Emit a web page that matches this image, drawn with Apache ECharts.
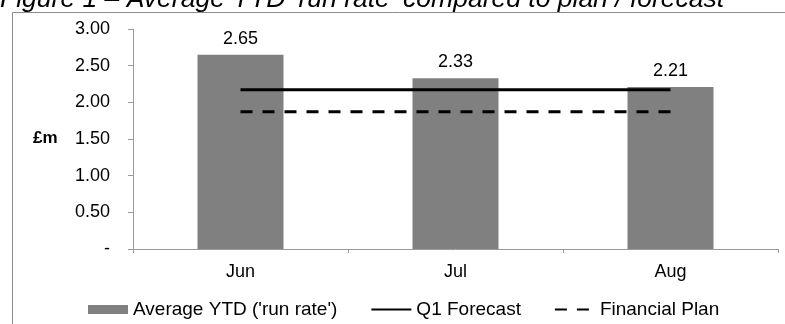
<!DOCTYPE html>
<html>
<head>
<meta charset="utf-8">
<script src="https://cdn.jsdelivr.net/npm/echarts@6/dist/echarts.min.js"></script>
<style>
  html, body { margin: 0; padding: 0; background: #fff; }
  #main { width: 785px; height: 324px; }
</style>
</head>
<body>
<div id="main"></div>
<script>
// 数据
var months = ['Jun', 'Jul', 'Aug']
var runRate = [2.65, 2.33, 2.21]
var q1Forecast = [2.17, 2.17, 2.17]
var financialPlan = [1.87, 1.87, 1.87]
var titleText = 'Figure 1 \u2013 Average YTD \u2018run rate\u2019 compared to plan / forecast'

var chart = echarts.init(document.getElementById('main'))
var font = 'Liberation Sans, Arial, sans-serif'

chart.setOption({
  animation: false,
  textStyle: { fontFamily: font },
  graphic: [
    {
      type: 'text',
      left: 0,
      top: -14,
      style: { text: titleText, font: 'italic 26.5px Liberation Sans', fill: '#000' }
    },
    {
      type: 'rect',
      shape: { x: 12.5, y: 12.5, width: 800, height: 400 },
      style: { fill: 'none', stroke: '#8c8c8c', lineWidth: 1 }
    },
    {
      type: 'text',
      left: 33,
      top: 130,
      style: { text: '£m', font: 'bold 17px Liberation Sans', fill: '#000' }
    }
  ],
  grid: {
    left: 133,
    right: 7,
    top: 29,
    bottom: 75,
    containLabel: false
  },
  legend: {
    left: 88,
    top: 300,
    padding: 0,
    itemWidth: 40,
    itemHeight: 9,
    itemGap: 33,
    textStyle: { color: '#000', fontSize: 19, fontFamily: font },
    data: [
      { name: "Average YTD ('run rate')", icon: 'rect' },
      { name: 'Q1 Forecast', itemStyle: { opacity: 0 } },
      { name: 'Financial Plan', itemStyle: { opacity: 0 } }
    ]
  },
  xAxis: {
    type: 'category',
    data: months,
    axisLine: { lineStyle: { color: '#9a9a9a' } },
    axisTick: { show: true, length: 4, lineStyle: { color: '#9a9a9a' } },
    axisLabel: { color: '#000', fontSize: 18, margin: 14 }
  },
  yAxis: {
    type: 'value',
    min: 0,
    max: 3,
    interval: 0.5,
    splitLine: { show: false },
    axisLine: { show: true, lineStyle: { color: '#9a9a9a' } },
    axisTick: { show: true, length: 5, lineStyle: { color: '#9a9a9a' } },
    axisLabel: {
      color: '#000',
      fontSize: 18,
      margin: 23,
      formatter: function (v) { return v === 0 ? '-' : v.toFixed(2) }
    }
  },
  series: [
    {
      name: "Average YTD ('run rate')",
      type: 'bar',
      data: runRate,
      barWidth: '40%',
      itemStyle: { color: '#808080' },
      label: {
        show: true,
        position: 'top',
        distance: 7,
        color: '#000',
        fontSize: 18,
        formatter: function (p) { return p.value.toFixed(2) }
      }
    },
    {
      name: 'Q1 Forecast',
      type: 'line',
      data: q1Forecast,
      symbol: 'none',
      lineStyle: { color: '#000', width: 3 },
      itemStyle: { color: '#000' }
    },
    {
      name: 'Financial Plan',
      type: 'line',
      data: financialPlan,
      symbol: 'none',
      lineStyle: { color: '#000', width: 3, type: [12, 10] },
      itemStyle: { color: '#000' }
    }
  ]
})
</script>
</body>
</html>
